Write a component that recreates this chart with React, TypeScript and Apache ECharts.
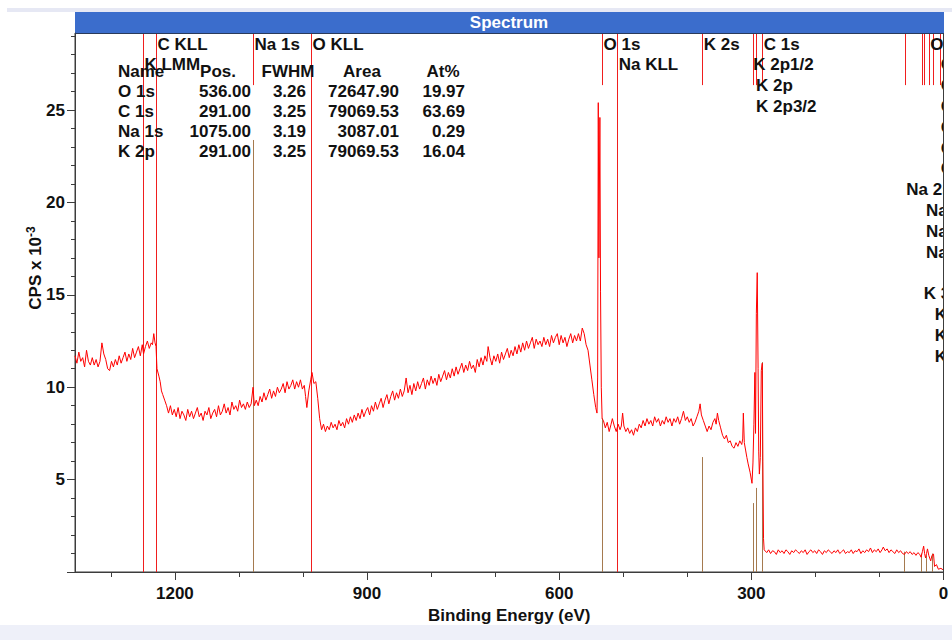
import React, { useEffect, useRef } from 'react';
import * as echarts from 'echarts';

const FONT = '"Liberation Sans", Arial, Helvetica, sans-serif';
const BOLD17 = `bold 17px ${FONT}`;

const X_MIN = 0;
const X_MAX = 1356;
const Y_MIN = 0;
const Y_MAX = 29.17;

// Axis ticks / labels
const xLabelValues = [0, 300, 600, 900, 1200];
const yLabelValues = [5, 10, 15, 20, 25];
const yMajorTickValues = [0, 5, 10, 15, 20, 25];

// Spectrum segments: [binding energy (eV), CPS x 10^-3]
const highEnergyBackground: [number, number][] = [
  [1356, 11.7], [1353, 11.3], [1350, 11.9], [1347, 11.4], [1344, 11.6], [1341, 11.1], [1338, 12.0], [1335, 11.4],
  [1332, 11.2], [1329, 11.6], [1326, 11.2], [1323, 11.5], [1320, 11.1], [1317, 11.4], [1314, 12.4], [1311, 11.8],
  [1308, 11.5], [1305, 11.0], [1302, 10.9], [1299, 11.4], [1296, 11.1], [1293, 11.5], [1290, 11.2], [1287, 11.7],
  [1284, 11.3], [1281, 11.6], [1278, 11.9], [1275, 11.4], [1272, 11.8], [1269, 11.5], [1266, 12.1], [1263, 11.6],
  [1260, 11.9], [1257, 12.2], [1254, 11.7], [1251, 12.3], [1249, 11.8], [1246, 12.2], [1243, 12.5], [1240, 12.1],
  [1237, 12.4], [1235, 12.3], [1233, 12.9], [1231, 12.4], [1229.5, 12.2], [1228, 11.0],
];

const naRegion: [number, number][] = [
  [1225, 10.6], [1223, 10.3], [1221, 9.8], [1219, 9.6], [1216, 9.3], [1213, 9.0], [1210, 8.6], [1207, 9.0],
  [1204, 8.5], [1201, 8.8], [1198, 8.4], [1195, 8.9], [1192, 8.3], [1189, 8.7], [1186, 8.5], [1183, 8.2],
  [1180, 8.8], [1177, 8.4], [1174, 8.7], [1171, 8.3], [1168, 8.6], [1165, 8.9], [1162, 8.4], [1159, 8.6],
  [1156, 8.2], [1153, 8.7], [1150, 8.5], [1147, 8.9], [1144, 8.3], [1141, 8.6], [1138, 8.8], [1135, 8.4],
  [1132, 9.0], [1129, 8.5], [1126, 8.7], [1123, 9.1], [1120, 8.6], [1117, 8.9], [1114, 8.5], [1111, 9.2],
  [1108, 8.8], [1105, 9.0], [1102, 8.7], [1099, 9.3], [1096, 8.9], [1093, 9.1], [1090, 8.8], [1087, 9.2],
  [1084, 8.9], [1081, 9.1], [1078, 10.0], [1076, 9.0], [1073, 9.3], [1070, 9.0], [1067, 9.5], [1064, 9.2],
  [1061, 9.7], [1058, 9.3], [1055, 9.6], [1052, 9.9], [1049, 9.4], [1046, 9.8], [1043, 9.5], [1040, 10.0],
  [1037, 9.7], [1034, 9.9], [1031, 10.2], [1028, 9.7], [1025, 10.3], [1022, 9.9], [1019, 10.1], [1016, 10.4],
  [1013, 9.9], [1010, 10.3], [1007, 10.0], [1004, 10.4], [1001, 9.9], [998, 10.1], [996, 9.5], [994, 8.9],
  [991, 9.8], [988, 10.4], [986, 10.8], [983, 10.2], [980, 10.3], [977, 9.4], [974, 8.3], [971, 7.7],
  [968, 8.0], [965, 7.6], [962, 7.9],
];

const midBackground: [number, number][] = [
  [959, 7.7], [956, 8.1], [953, 7.8], [950, 8.0], [947, 7.7], [944, 8.2], [941, 7.9], [938, 8.1],
  [935, 7.8], [932, 8.3], [929, 8.0], [926, 8.4], [923, 8.1], [920, 8.5], [917, 8.2], [914, 8.6],
  [911, 8.3], [908, 8.8], [905, 8.4], [902, 8.7], [899, 8.9], [896, 8.5], [893, 9.0], [890, 8.7],
  [887, 9.2], [884, 8.8], [881, 9.1], [878, 9.4], [875, 8.9], [872, 9.3], [869, 9.6], [866, 9.1],
  [863, 9.5], [860, 9.8], [857, 9.3], [854, 9.7], [851, 9.4], [848, 9.9], [845, 9.5], [842, 9.8],
  [839, 10.5], [836, 9.7], [833, 10.1], [830, 9.6], [827, 10.2], [824, 9.8], [821, 10.3], [818, 9.9],
  [815, 10.2], [812, 10.5], [809, 9.9], [806, 10.4], [803, 10.1], [800, 10.6], [797, 10.2], [794, 10.5],
  [791, 10.1], [788, 10.7], [785, 10.3], [782, 10.6], [779, 10.9], [776, 10.4], [773, 10.8], [770, 10.5],
  [767, 11.0], [764, 10.6], [761, 11.1], [758, 10.7], [755, 11.0], [752, 11.3], [749, 10.8], [746, 11.2],
  [743, 10.9], [740, 11.4], [737, 11.0], [734, 11.2], [731, 10.8], [728, 11.5], [725, 11.1], [722, 11.6],
  [719, 11.2], [716, 11.7], [713, 11.4], [711, 12.2], [708, 11.6], [705, 11.2], [702, 11.7], [699, 11.4],
  [696, 11.8], [693, 11.3], [690, 11.9], [687, 11.5], [684, 11.8], [681, 12.1], [678, 11.6], [675, 12.0],
  [672, 11.7], [669, 12.2], [666, 11.8], [663, 12.3], [660, 11.9], [657, 12.4], [654, 12.0], [651, 12.5],
  [648, 12.1], [645, 12.4], [642, 12.7], [639, 12.1], [636, 12.6], [633, 12.3], [630, 12.5], [627, 12.2],
  [624, 12.7], [621, 12.3], [618, 12.6], [615, 12.2], [612, 12.8], [609, 12.4], [606, 12.7], [603, 12.9],
  [600, 12.3], [597, 12.8], [594, 12.4], [591, 12.7], [588, 12.2], [585, 12.6], [582, 12.9], [579, 12.4],
  [576, 12.8], [573, 12.5], [570, 12.9], [567, 12.5], [564, 13.2], [561, 12.9], [558, 12.3], [555, 12.0],
  [552, 11.2], [549, 10.4], [546, 9.6], [543, 8.9], [541, 8.6],
];

const o1sPeak: [number, number][] = [
  [540, 10.5], [539, 25.4], [538, 17.0], [536.5, 24.6], [535.5, 15.2], [534.3, 10.0], [533, 8.3],
];

const lowBackground: [number, number][] = [
  [531, 8.2], [528, 7.8], [525, 8.1], [522, 7.6], [519, 8.0], [517, 8.3], [514, 7.9], [511, 7.6],
  [508, 8.0], [505, 7.7], [503, 7.9], [501, 8.6], [499, 7.9], [496, 7.6], [493, 7.8], [490, 7.5],
  [487, 7.7], [484, 7.4], [481, 7.8], [478, 7.6], [475, 8.0], [472, 7.8], [469, 8.2], [466, 7.9],
  [463, 8.3], [460, 8.0], [457, 8.2], [454, 7.9], [451, 8.4], [448, 8.1], [445, 8.3], [442, 7.9],
  [439, 8.2], [436, 8.0], [433, 8.4], [430, 8.1], [427, 8.3], [424, 7.9], [421, 8.3], [418, 8.1],
  [415, 8.4], [412, 8.0], [409, 8.3], [406, 8.7], [403, 8.2], [400, 8.4], [397, 8.1], [394, 8.3],
  [391, 7.9], [388, 8.1], [385, 8.4], [382, 8.7], [380, 9.1], [378, 8.5], [375, 8.2], [372, 7.9],
  [369, 7.6], [366, 7.9], [363, 7.7], [360, 8.1], [357, 8.3], [355, 8.0], [353, 8.6], [351, 8.2],
  [348, 7.8], [345, 7.4], [342, 7.2], [339, 7.4], [336, 7.0], [333, 7.1], [330, 6.8], [327, 6.7],
  [324, 7.0], [321, 6.8], [318, 7.1], [315, 6.9], [313.5, 7.2], [312.5, 8.6], [311, 7.0], [309, 6.6],
  [307, 6.2], [305, 5.85], [302, 5.4], [299, 4.8],
];

const k2pC1sPeak: [number, number][] = [
  [297.5, 5.9], [296, 8.0], [294.5, 10.8], [293.5, 7.5], [292.2, 14.0], [290.8, 16.2], [289.5, 11.0],
  [288.5, 6.5], [287.5, 5.3], [286, 6.2], [284.5, 10.9], [283, 11.3], [282, 6.0], [281, 1.8], [280, 1.2],
];

const valenceTail: [number, number][] = [
  [279, 1.2], [276, 1.05], [273, 1.2], [270, 1.0], [267, 1.15], [264, 1.1], [261, 0.95], [258, 1.2],
  [255, 1.05], [252, 1.15], [249, 1.0], [246, 1.2], [243, 1.1], [240, 0.95], [237, 1.15], [234, 1.05],
  [231, 1.2], [228, 1.1], [225, 1.0], [222, 1.15], [219, 1.05], [216, 1.2], [213, 0.95], [210, 1.1],
  [207, 1.2], [204, 1.05], [201, 1.15], [198, 1.0], [195, 1.2], [192, 1.1], [189, 0.95], [186, 1.15],
  [183, 1.05], [180, 1.2], [177, 1.1], [174, 1.0], [171, 1.15], [168, 1.05], [165, 1.2], [162, 1.0],
  [159, 1.1], [156, 1.2], [153, 1.0], [150, 1.1], [147, 1.05], [144, 1.2], [141, 1.0], [138, 1.15],
  [135, 1.1], [132, 1.25], [129, 1.0], [126, 1.15], [123, 1.05], [120, 1.2], [117, 1.1], [114, 1.3],
  [111, 1.05], [108, 1.2], [105, 1.1], [102, 1.25], [99, 1.05], [96, 1.2], [94, 1.35], [91, 1.15],
  [88, 1.25], [85, 1.05], [82, 1.2], [79, 1.1], [76, 1.0], [73, 1.2], [70, 1.05], [67, 1.15],
  [64, 1.0], [61, 0.95], [58, 1.1], [55, 1.0], [52, 1.1], [49, 0.95], [46, 1.05], [43, 0.9],
  [40, 1.05], [37, 0.95], [35, 0.8], [33, 1.1], [31, 1.4], [29.5, 1.0], [28, 0.76], [26.5, 1.0],
  [25, 1.25], [23, 0.9], [20, 0.6], [18, 0.9], [15.6, 0.97], [14, 0.3], [11, 0.4], [8, 0.15],
  [4, 0.2], [0, 0.1],
];

// Marker lines (eV)
const augerMarkers = [1250, 1229.5, 987.5, 509.5];
const peakMarkers = [1078, 533, 376.5, 297, 292.2, 282.8, 60.5, 33.3, 29.7, 23, 16.1, 4.7];
const MARKER_BOTTOM = 26.35;

// Element library lines
const libraryLineEnergy = [1078, 533, 376.5, 297, 293, 283, 61.7, 34.4, 26.6, 17.2];
const libraryLineHeight = [23.38, 8.33, 6.22, 3.73, 4.55, 11.36, 1.1, 1.0, 0.9, 1.0];

// Marker labels
const markerLabelText = [
  'C KLL', 'K LMM', 'Na 1s', 'O KLL', 'O 1s', 'Na KLL', 'K 2s', 'C 1s', 'K 2p1/2', 'K 2p', 'K 2p3/2',
  'O 2s', 'O 2p', 'O 2p1/2', 'O 2p3/2', 'C 2s', 'C 2p', 'C 2p3/2',
  'Na 2s', 'Na 2p', 'Na 2p1/2', 'Na 2p3/2', 'K 3s', 'K 3p', 'K 3p1/2', 'K 3p3/2',
];
const markerLabelEnergy = [
  1229.5, 1250, 1078, 987.5, 533, 509.5, 376.5, 282.8, 299.5, 295, 295,
  23, 6.5, 6.5, 6.5, 6.5, 6.5, 6.5,
  60.5, 29.7, 29.7, 29.7, 33.3, 16.1, 16.1, 16.1,
];
const markerLabelRow = [
  1, 2, 1, 1, 1, 2, 1, 1, 2, 3, 4,
  1, 2, 3, 4, 5, 6, 7,
  8, 9, 10, 11, 13, 14, 15, 16,
];

// Quantification table
const tableHeader = ['Name', 'Pos.', 'FWHM', 'Area', 'At%'];
const tableNames = ['O 1s', 'C 1s', 'Na 1s', 'K 2p'];
const tablePos = ['536.00', '291.00', '1075.00', '291.00'];
const tableFwhm = ['3.26', '3.25', '3.19', '3.25'];
const tableArea = ['72647.90', '79069.53', '3087.01', '79069.53'];
const tableAtPct = ['19.97', '63.69', '0.29', '16.04'];

const spectrum = [
  ...highEnergyBackground, ...naRegion, ...midBackground, ...o1sPeak,
  ...lowBackground, ...k2pC1sPeak, ...valenceTail,
].sort((a, b) => b[0] - a[0]);

const AXIS_COLOR = '#3c3c3c';
const TEXT_COLOR = '#111';
const MARKER_RED = '#f01e1e';

function txt(text: string, x: number, y: number, align: string, extra: any = {}) {
  return {
    type: 'text',
    x,
    y,
    z: 10,
    silent: true,
    style: {
      text,
      font: BOLD17,
      fill: TEXT_COLOR,
      textAlign: align,
      textVerticalAlign: 'middle',
      align,
      verticalAlign: 'middle',
      ...extra,
    },
  };
}

function verticalLines(rows: number[][], color: string, z: number) {
  return {
    type: 'custom',
    z,
    silent: true,
    clip: true,
    xAxisIndex: 0,
    yAxisIndex: 0,
    encode: { x: 0, y: [1, 2] },
    data: rows,
    renderItem: (params: any, api: any) => {
      const e = api.value(0);
      const a = api.coord([e, api.value(1)]);
      const b = api.coord([e, api.value(2)]);
      const px = Math.round(a[0]) + 0.5;
      return {
        type: 'line',
        shape: { x1: px, y1: a[1], x2: px, y2: b[1] },
        style: { stroke: color, lineWidth: 1 },
      };
    },
  };
}

export default function App() {
  const ref = useRef<HTMLDivElement>(null);

  useEffect(() => {
    if (!ref.current) return;
    const chart = echarts.init(ref.current, undefined, { renderer: 'svg' });

    const tableGraphics: any[] = [];
    tableGraphics.push(txt(tableHeader[0], 118, 71, 'left'));
    tableGraphics.push(txt(tableHeader[1], 218, 71, 'center'));
    tableGraphics.push(txt(tableHeader[2], 288, 71, 'center'));
    tableGraphics.push(txt(tableHeader[3], 362, 71, 'center'));
    tableGraphics.push(txt(tableHeader[4], 443, 71, 'center'));
    tableNames.forEach((n, i) => {
      const y = 91 + i * 20;
      tableGraphics.push(txt(n, 118, y, 'left'));
      tableGraphics.push(txt(tablePos[i], 251, y, 'right'));
      tableGraphics.push(txt(tableFwhm[i], 306, y, 'right'));
      tableGraphics.push(txt(tableArea[i], 399, y, 'right'));
      tableGraphics.push(txt(tableAtPct[i], 465, y, 'right'));
    });

    const axisText = { fontSize: 17, fontWeight: 'bold', fontFamily: FONT, color: TEXT_COLOR };

    const option: any = {
      animation: false,
      backgroundColor: '#ffffff',
      grid: {
        left: 75,
        right: 8.5,
        top: 33,
        bottom: 68,
        show: true,
        borderColor: AXIS_COLOR,
        borderWidth: 1,
        backgroundColor: 'transparent',
      },
      xAxis: {
        type: 'value',
        position: 'bottom',
        min: X_MIN,
        max: X_MAX,
        interval: 300,
        inverse: true,
        axisLine: { show: true, onZero: false, lineStyle: { color: AXIS_COLOR, width: 1 } },
        axisTick: { show: true, length: 8, customValues: xLabelValues, lineStyle: { color: AXIS_COLOR } },
        minorTick: { show: true, splitNumber: 3, length: 5, lineStyle: { color: AXIS_COLOR } },
        axisLabel: { customValues: xLabelValues, margin: 13, formatter: (v: number) => String(v), ...axisText },
        splitLine: { show: false },
        minorSplitLine: { show: false },
        name: 'Binding Energy (eV)',
        nameLocation: 'middle',
        nameGap: 31,
        nameTextStyle: axisText,
      },
      yAxis: {
        type: 'value',
        position: 'left',
        min: Y_MIN,
        max: Y_MAX,
        interval: 5,
        axisLine: { show: true, onZero: false, lineStyle: { color: AXIS_COLOR, width: 1 } },
        axisTick: { show: true, length: 8, customValues: yMajorTickValues, lineStyle: { color: AXIS_COLOR } },
        minorTick: { show: true, splitNumber: 5, length: 4, lineStyle: { color: AXIS_COLOR } },
        axisLabel: { customValues: yLabelValues, margin: 10, formatter: (v: number) => String(v), ...axisText },
        splitLine: { show: false },
        minorSplitLine: { show: false },
      },
      graphic: [
        { type: 'rect', silent: true, shape: { x: 7, y: 8, width: 945, height: 4 }, style: { fill: '#e6e8f4' } },
        { type: 'rect', silent: true, shape: { x: 0, y: 625, width: 952, height: 15 }, style: { fill: '#eef0f9' } },
        { type: 'rect', silent: true, shape: { x: 75, y: 12, width: 869, height: 21 }, style: { fill: '#3b6dcc' } },
        { type: 'rect', silent: true, z: 20, shape: { x: 944, y: 33, width: 8, height: 540 }, style: { fill: '#ffffff' } },
        {
          type: 'line',
          silent: true,
          z: 21,
          shape: { x1: 943.5, y1: 33, x2: 943.5, y2: 572 },
          style: { stroke: AXIS_COLOR, lineWidth: 1 },
        },
        {
          type: 'line',
          silent: true,
          z: 21,
          shape: { x1: 75, y1: 33.5, x2: 944, y2: 33.5 },
          style: { stroke: '#2a3a5a', lineWidth: 1 },
        },
        txt('Spectrum', 509, 22.5, 'center', { fill: '#ffffff' }),
        {
          type: 'text',
          x: 35,
          y: 268,
          rotation: Math.PI / 2,
          silent: true,
          style: {
            text: '{a|CPS x 10}{b|-3}',
            textAlign: 'center',
            textVerticalAlign: 'middle',
            align: 'center',
            verticalAlign: 'middle',
            fill: TEXT_COLOR,
            rich: {
              a: { font: BOLD17, fill: TEXT_COLOR, lineHeight: 20 },
              b: { font: `bold 12px ${FONT}`, fill: TEXT_COLOR, verticalAlign: 'top', lineHeight: 12 },
            },
          },
        },
        ...tableGraphics,
      ],
      series: [
        verticalLines(libraryLineEnergy.map((e, i) => [e, 0, libraryLineHeight[i]]), '#a57a4f', 2),
        verticalLines(augerMarkers.map((e) => [e, 0, Y_MAX]), MARKER_RED, 2),
        verticalLines(peakMarkers.map((e) => [e, MARKER_BOTTOM, Y_MAX]), MARKER_RED, 2),
        {
          type: 'line',
          data: spectrum,
          showSymbol: false,
          symbol: 'none',
          clip: true,
          silent: true,
          z: 3,
          lineStyle: { color: '#ff0000', width: 1 },
        },
        {
          type: 'custom',
          z: 5,
          silent: true,
          clip: true,
          encode: { x: 0, y: 1 },
          data: markerLabelEnergy.map((e) => [e, Y_MAX]),
          renderItem: (params: any, api: any) => {
            const i = params.dataIndex;
            const p = api.coord([api.value(0), Y_MAX]);
            const top = params.coordSys.y;
            return {
              type: 'text',
              x: p[0] + 1.5,
              y: top + 11 + (markerLabelRow[i] - 1) * 20.8,
              style: {
                text: markerLabelText[i],
                font: BOLD17,
                fill: TEXT_COLOR,
                textAlign: 'left',
                textVerticalAlign: 'middle',
                align: 'left',
                verticalAlign: 'middle',
              },
            };
          },
        },
      ],
    };

    chart.setOption(option);
    return () => {
      chart.dispose();
    };
  }, []);

  return (
    <div
      ref={ref}
      style={{ position: 'absolute', left: 0, top: 0, width: 952, height: 640, background: '#fff' }}
    />
  );
}
